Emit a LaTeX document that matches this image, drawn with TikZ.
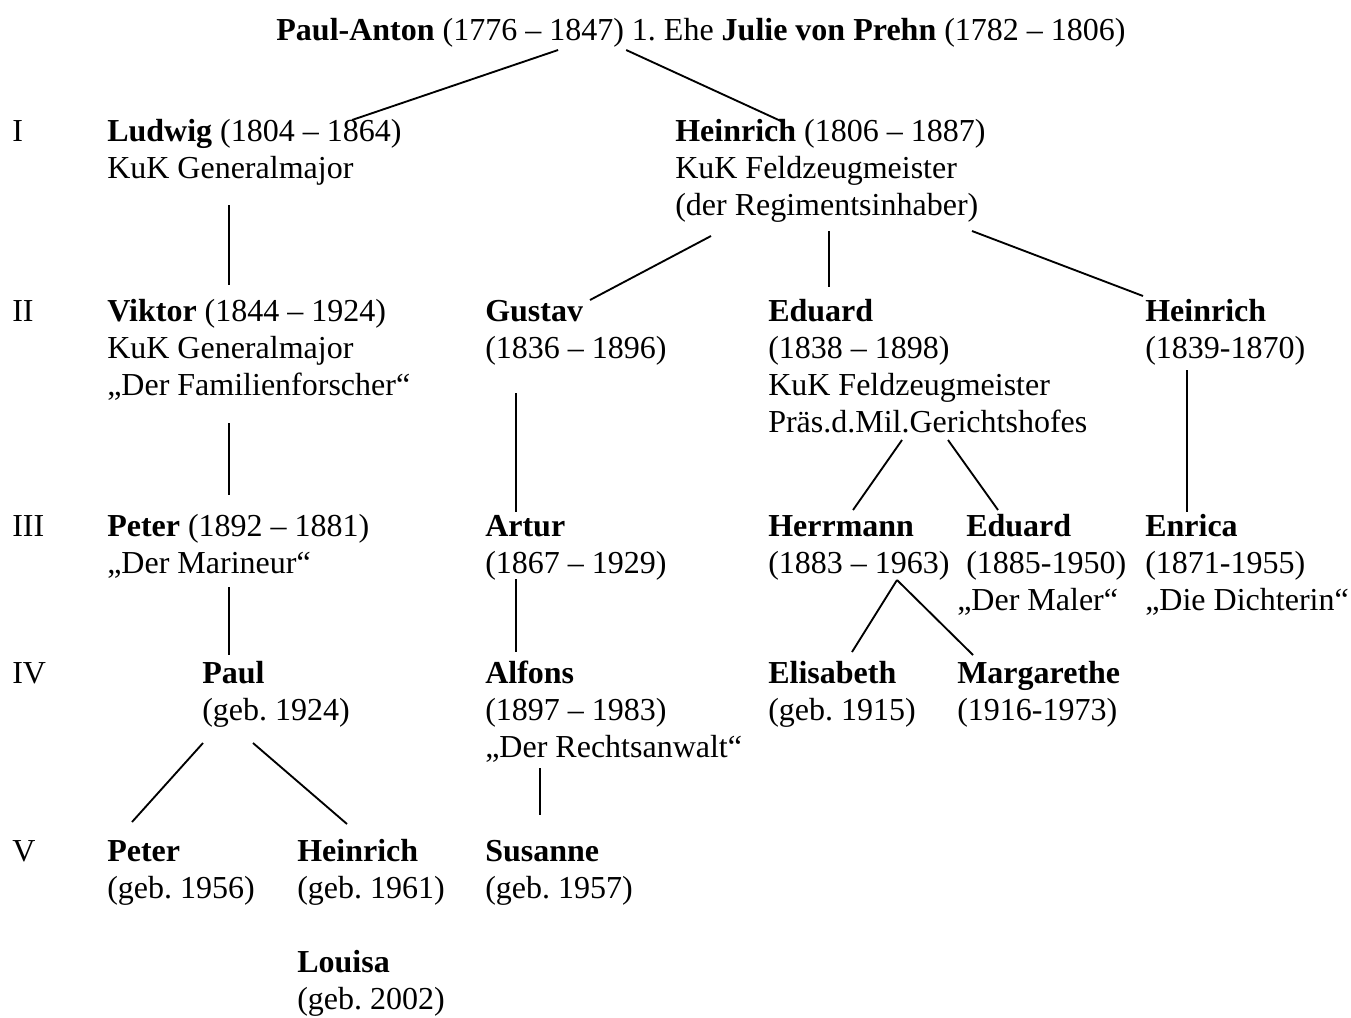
\documentclass[tikz,border=0pt]{standalone}
\usepackage{fontspec}
\setmainfont{Liberation Serif}
\usetikzlibrary{calc}
\newcommand{\famblock}[1]{\begin{tabular}[t]{@{}l@{}}#1\end{tabular}}
\frenchspacing

\begin{document}
\begin{tikzpicture}[
x=0.75pt,y=-0.75pt,
person/.style={
  anchor=base west,
  inner sep=0pt,
  font=\fontsize{24}{27.75}\selectfont
  },
gen/.style={
  person
  },
line/.style={
  line width=1.4pt
  }
]
\useasboundingbox (0,0) rectangle (1351,1017);
% Stammeltern
\node[person, anchor=base] at (701,40) (title)
  {\textbf{Paul-Anton} (1776 – 1847) 1. Ehe \textbf{Julie von Prehn} (1782 – 1806)};
% Generationen
\node[gen] at (12,141) (gI) {I};
\node[gen] at (12,321) (gII) {II};
\node[gen] at (12,536) (gIII) {III};
\node[gen] at (12,683) (gIV) {IV};
\node[gen] at (12,861) (gV) {V};
% I
\node[person] at (107,141) (ludwig)
  {\famblock{\textbf{Ludwig} (1804 – 1864)\\KuK Generalmajor}};
\node[person] at (675,141) (heinrichI)
  {\famblock{\textbf{Heinrich} (1806 – 1887)\\KuK Feldzeugmeister\\(der Regimentsinhaber)}};
% II
\node[person] at (107,321) (viktor)
  {\famblock{\textbf{Viktor} (1844 – 1924)\\KuK Generalmajor\\„Der Familienforscher“}};
\node[person] at (485,321) (gustav)
  {\famblock{\textbf{Gustav}\\(1836 – 1896)}};
\node[person] at (768,321) (eduardII)
  {\famblock{\textbf{Eduard}\\(1838 – 1898)\\KuK Feldzeugmeister\\Präs.d.Mil.Gerichtshofes}};
\node[person] at (1145,321) (heinrichII)
  {\famblock{\textbf{Heinrich}\\(1839-1870)}};
% III
\node[person] at (107,536) (peterIII)
  {\famblock{\textbf{Peter} (1892 – 1881)\\„Der Marineur“}};
\node[person] at (485,536) (artur)
  {\famblock{\textbf{Artur}\\(1867 – 1929)}};
\node[person] at (768,536) (herrmann)
  {\famblock{\textbf{Herrmann}\\(1883 – 1963)}};
\node[person] at (966,536) (eduardIII)
  {\famblock{\textbf{Eduard}\\(1885-1950)}};
\node[person] at (957,610) (maler) {„Der Maler“};
\node[person] at (1145,536) (enrica)
  {\famblock{\textbf{Enrica}\\(1871-1955)\\„Die Dichterin“}};
% IV
\node[person] at (202,683) (paul)
  {\famblock{\textbf{Paul}\\(geb. 1924)}};
\node[person] at (485,683) (alfons)
  {\famblock{\textbf{Alfons}\\(1897 – 1983)\\„Der Rechtsanwalt“}};
\node[person] at (768,683) (elisabeth)
  {\famblock{\textbf{Elisabeth}\\(geb. 1915)}};
\node[person] at (957,683) (margarethe)
  {\famblock{\textbf{Margarethe}\\(1916-1973)}};
% V
\node[person] at (107,861) (peterV)
  {\famblock{\textbf{Peter}\\(geb. 1956)}};
\node[person] at (297,861) (heinrichV)
  {\famblock{\textbf{Heinrich}\\(geb. 1961)}};
\node[person] at (485,861) (susanne)
  {\famblock{\textbf{Susanne}\\(geb. 1957)}};
\node[person] at (297,972) (louisa)
  {\famblock{\textbf{Louisa}\\(geb. 2002)}};

% Verbindungen
\draw[line] ($(title.base west)+(282,10)$) -- ($(ludwig.base west)+(245,-21)$);
\draw[line] ($(title.base west)+(350,10)$) -- ($(heinrichI.base west)+(108,-19)$);
\draw[line] ($(ludwig.base west)+(122,64)$) -- ($(viktor.base west)+(122,-36)$);
\draw[line] ($(viktor.base west)+(122,102)$) -- ($(peterIII.base west)+(122,-41)$);
\draw[line] ($(peterIII.base west)+(122,51)$) -- ($(paul.base west)+(27,-28)$);
\draw[line] ($(paul.base west)+(1,60)$) -- ($(peterV.base west)+(25,-39)$);
\draw[line] ($(paul.base west)+(51,60)$) -- ($(heinrichV.base west)+(50,-37)$);
\draw[line] ($(heinrichI.base west)+(36,95)$) -- ($(gustav.base west)+(105,-21)$);
\draw[line] ($(heinrichI.base west)+(154,90)$) -- ($(eduardII.base west)+(61,-34)$);
\draw[line] ($(heinrichI.base west)+(297,90)$) -- ($(heinrichII.base west)+(-2,-25)$);
\draw[line] ($(gustav.base west)+(31,72)$) -- ($(artur.base west)+(31,-24)$);
\draw[line] ($(artur.base west)+(31,43)$) -- ($(alfons.base west)+(31,-31)$);
\draw[line] ($(alfons.base west)+(55,85)$) -- ($(susanne.base west)+(55,-46)$);
\draw[line] ($(eduardII.base west)+(134,119)$) -- ($(herrmann.base west)+(85,-26)$);
\draw[line] ($(eduardII.base west)+(180,119)$) -- ($(eduardIII.base west)+(32,-26)$);
\draw[line] ($(heinrichII.base west)+(42,49)$) -- ($(enrica.base west)+(42,-24)$);
\draw[line] ($(herrmann.base west)+(129,44)$) -- ($(elisabeth.base west)+(84,-31)$);
\draw[line] ($(herrmann.base west)+(129,44)$) -- ($(margarethe.base west)+(16,-28)$);
\end{tikzpicture}
\end{document}
